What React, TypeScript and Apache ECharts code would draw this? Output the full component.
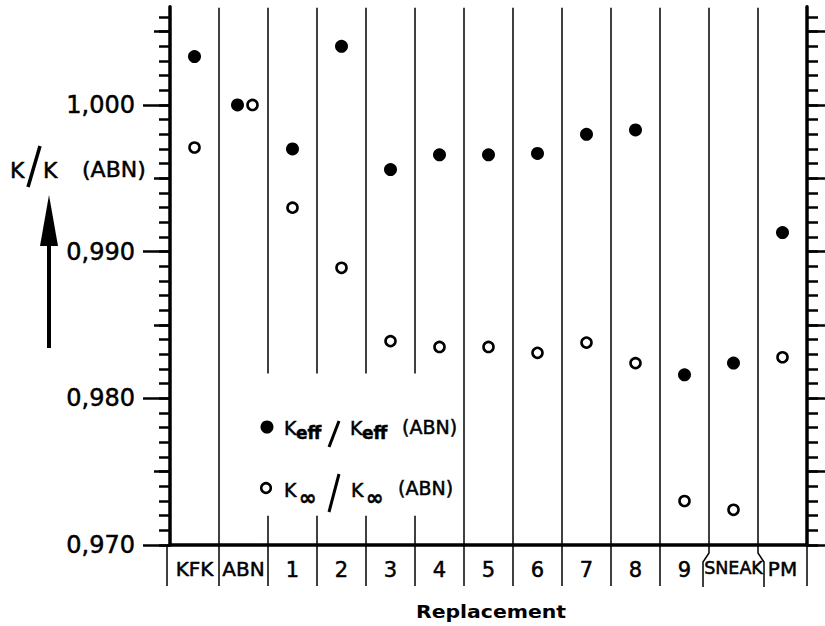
import React, { useEffect, useRef } from "react";
import * as echarts from "echarts";

// Categories along the bottom axis
const categories = ["KFK", "ABN", "1", "2", "3", "4", "5", "6", "7", "8", "9", "SNEAK", "PM"];

// K_eff / K_eff(ABN)
const keffRatio = [1.0033, 1.0, 0.997, 1.004, 0.9956, 0.9966, 0.9966, 0.9967, 0.998, 0.9983, 0.9816, 0.9824, 0.9913];

// K_inf / K_inf(ABN)
const kinfRatio = [0.9971, 1.0, 0.993, 0.9889, 0.9839, 0.9835, 0.9835, 0.9831, 0.9838, 0.9824, 0.973, 0.9724, 0.9828];

// Value axis range and tick values
const yMin = 0.97;
const yMax = 1.0067;
const majorTicks = [0.97, 0.98, 0.99, 1.0];
const halfTicks = [0.975, 0.985, 0.995, 1.005];
const minorTicks = Array.from({ length: 37 }, (_, i) => +(0.97 + i * 0.001).toFixed(3));

// Divider lines interrupted where the key sits (boundary indices, value range of the gap)
const brokenDividers = [2, 3, 4, 5];
const keyGap = [0.9720, 0.9817];
// Boundaries drawn as brace-like ticks around the SNEAK label
const braceLeft = 11;
const braceRight = 12;

const FONT = "DejaVu Sans";
// slight outline so the lettering reads a little heavier
const ink = { fill: "#000", stroke: "#000", lineWidth: 0.5, fontFamily: FONT, verticalAlign: "middle" };

export default function App() {
  const ref = useRef<HTMLDivElement>(null);

  useEffect(() => {
    document.body.style.margin = "0";
    const chart = echarts.init(ref.current!, null, { renderer: "svg" });

    const n = categories.length;
    const boundaryData = Array.from({ length: n + 1 }, (_, b) => [Math.min(b, n - 1), yMin, b]);

    const tickAxis = (position: "left" | "right", values: number[], length: number, showLine: boolean) => ({
      type: "value",
      position,
      min: yMin,
      max: yMax,
      axisLine: { show: showLine, lineStyle: { color: "#000", width: 3.5 } },
      axisTick: { show: true, inside: false, length, customValues: values, lineStyle: { color: "#000", width: 2.5 } },
      axisLabel: { show: false },
      splitLine: { show: false },
    });

    const labelInk = { color: "#000", fontFamily: FONT, textBorderColor: "#000", textBorderWidth: 0.5 };

    const option: any = {
      animation: false,
      textStyle: { fontFamily: FONT },
      grid: { left: 170, right: 18, top: 6.7, bottom: 81 },
      xAxis: {
        type: "category",
        data: categories,
        boundaryGap: true,
        axisLine: { show: true, onZero: false, lineStyle: { color: "#000", width: 3.5 } },
        axisTick: { show: false },
        splitLine: { show: false },
        axisLabel: {
          margin: 14,
          interval: 0,
          fontSize: 21,
          ...labelInk,
          formatter: (v: string) => (v === "SNEAK" ? "{sm|SNEAK}" : v.length > 1 ? "{md|" + v + "}" : v),
          rich: {
            sm: { fontSize: 17.5, ...labelInk },
            md: { fontSize: 20, ...labelInk },
          },
        },
      },
      yAxis: [
        {
          type: "value",
          position: "left",
          min: yMin,
          max: yMax,
          axisLine: { show: true, lineStyle: { color: "#000", width: 3.5 } },
          axisTick: { show: true, length: 27, customValues: majorTicks, lineStyle: { color: "#000", width: 2.5 } },
          axisLabel: {
            show: true,
            customValues: majorTicks,
            margin: 35,
            fontSize: 24,
            ...labelInk,
            formatter: (v: number) => v.toFixed(3).replace(".", ","),
          },
          splitLine: { show: false },
        },
        tickAxis("left", halfTicks, 16, false),
        tickAxis("left", minorTicks, 11, false),
        tickAxis("right", minorTicks, 11, true),
        tickAxis("right", [...majorTicks, ...halfTicks], 20, false),
      ],
      series: [
        {
          type: "custom",
          name: "dividers",
          clip: false,
          silent: true,
          z: 1,
          data: boundaryData,
          renderItem: (params: any, api: any) => {
            const idx = api.value(0) as number;
            const b = api.value(2) as number;
            const band = api.size([1, 0])[0];
            const base = api.coord([idx, yMin]);
            const top = api.coord([idx, yMax]);
            const x = b < n ? base[0] - band / 2 : base[0] + band / 2;
            const y0 = base[1];
            const children: any[] = [];
            const ls = { stroke: "#000", lineWidth: 1.5 };
            if (b > 0 && b < n) {
              if (brokenDividers.includes(b)) {
                const gHi = api.coord([idx, keyGap[1]])[1];
                const gLo = api.coord([idx, keyGap[0]])[1];
                children.push({ type: "line", shape: { x1: x, y1: top[1] + 1, x2: x, y2: gHi }, style: ls });
                children.push({ type: "line", shape: { x1: x, y1: gLo, x2: x, y2: y0 }, style: ls });
              } else {
                children.push({ type: "line", shape: { x1: x, y1: top[1] + 1, x2: x, y2: y0 }, style: ls });
              }
            }
            // tick below the axis
            if (b === braceLeft || b === braceRight) {
              const d = b === braceLeft ? -6 : 6;
              children.push({
                type: "polyline",
                shape: { points: [[x, y0], [x, y0 + 8], [x + d, y0 + 17], [x + d, y0 + 42]] },
                style: { stroke: "#000", lineWidth: 1.5, fill: "none" },
              });
            } else {
              const xt = b === 0 ? x - 3 : x;
              children.push({ type: "line", shape: { x1: xt, y1: y0, x2: xt, y2: y0 + 41 }, style: ls });
            }
            return { type: "group", children };
          },
        },
        {
          type: "scatter",
          name: "Keff",
          z: 3,
          symbol: "circle",
          symbolSize: 13,
          itemStyle: { color: "#000", opacity: 1 },
          data: keffRatio.map((v, i) =>
            categories[i] === "ABN" ? { value: [i, v], symbolOffset: [-6, 0] } : [i, v]
          ),
        },
        {
          type: "scatter",
          name: "Kinf",
          z: 3,
          symbol: "circle",
          symbolSize: 10,
          itemStyle: { color: "#fff", borderColor: "#000", borderWidth: 2.6, opacity: 1 },
          data: kinfRatio.map((v, i) =>
            categories[i] === "ABN" ? { value: [i, v], symbolOffset: [9, 0] } : [i, v]
          ),
        },
      ],
      graphic: [
        // axis title K/K (ABN) with arrow
        { type: "text", x: 10, y: 170, style: { text: "K", fontSize: 22, ...ink } },
        { type: "line", shape: { x1: 28, y1: 187, x2: 40, y2: 146 }, style: { stroke: "#000", lineWidth: 3.5 } },
        { type: "text", x: 43, y: 170, style: { text: "K", fontSize: 22, ...ink } },
        { type: "text", x: 82, y: 169, style: { text: "(ABN)", fontSize: 22, ...ink } },
        { type: "polygon", shape: { points: [[49, 195], [40, 246], [58, 246]] }, style: { fill: "#000" } },
        { type: "line", shape: { x1: 49, y1: 240, x2: 49, y2: 348 }, style: { stroke: "#000", lineWidth: 4 } },

        // key: filled markers
        { type: "circle", shape: { cx: 267, cy: 427, r: 6.5 }, style: { fill: "#000" } },
        { type: "text", x: 284, y: 428, style: { text: "K", fontSize: 19, ...ink } },
        { type: "text", x: 296, y: 433, style: { text: "eff", fontSize: 17, fontWeight: "bold", ...ink } },
        { type: "line", shape: { x1: 329, y1: 447, x2: 339, y2: 421 }, style: { stroke: "#000", lineWidth: 3 } },
        { type: "text", x: 350, y: 428, style: { text: "K", fontSize: 19, ...ink } },
        { type: "text", x: 362, y: 433, style: { text: "eff", fontSize: 17, fontWeight: "bold", ...ink } },
        { type: "text", x: 402, y: 427, style: { text: "(ABN)", fontSize: 19, ...ink } },

        // key: open markers
        { type: "circle", shape: { cx: 266, cy: 488, r: 4.8 }, style: { fill: "#fff", stroke: "#000", lineWidth: 2.6 } },
        { type: "text", x: 284, y: 490, style: { text: "K", fontSize: 19, ...ink } },
        { type: "text", x: 299, y: 498, style: { text: "\u221e", fontSize: 21, fontWeight: "bold", ...ink } },
        { type: "line", shape: { x1: 329, y1: 512, x2: 339, y2: 474 }, style: { stroke: "#000", lineWidth: 3 } },
        { type: "text", x: 351, y: 490, style: { text: "K", fontSize: 19, ...ink } },
        { type: "text", x: 366, y: 498, style: { text: "\u221e", fontSize: 21, fontWeight: "bold", ...ink } },
        { type: "text", x: 398, y: 488, style: { text: "(ABN)", fontSize: 19, ...ink } },

        // bottom axis title, widened lettering
        {
          type: "text",
          x: 491,
          y: 612,
          scaleX: 1.2,
          style: { text: "Replacement", fontSize: 17, fontWeight: "bold", fill: "#000", fontFamily: FONT, verticalAlign: "middle", align: "center" },
        },
      ],
    };

    chart.setOption(option);
    return () => chart.dispose();
  }, []);

  return <div ref={ref} style={{ width: 825, height: 626 }} />;
}
